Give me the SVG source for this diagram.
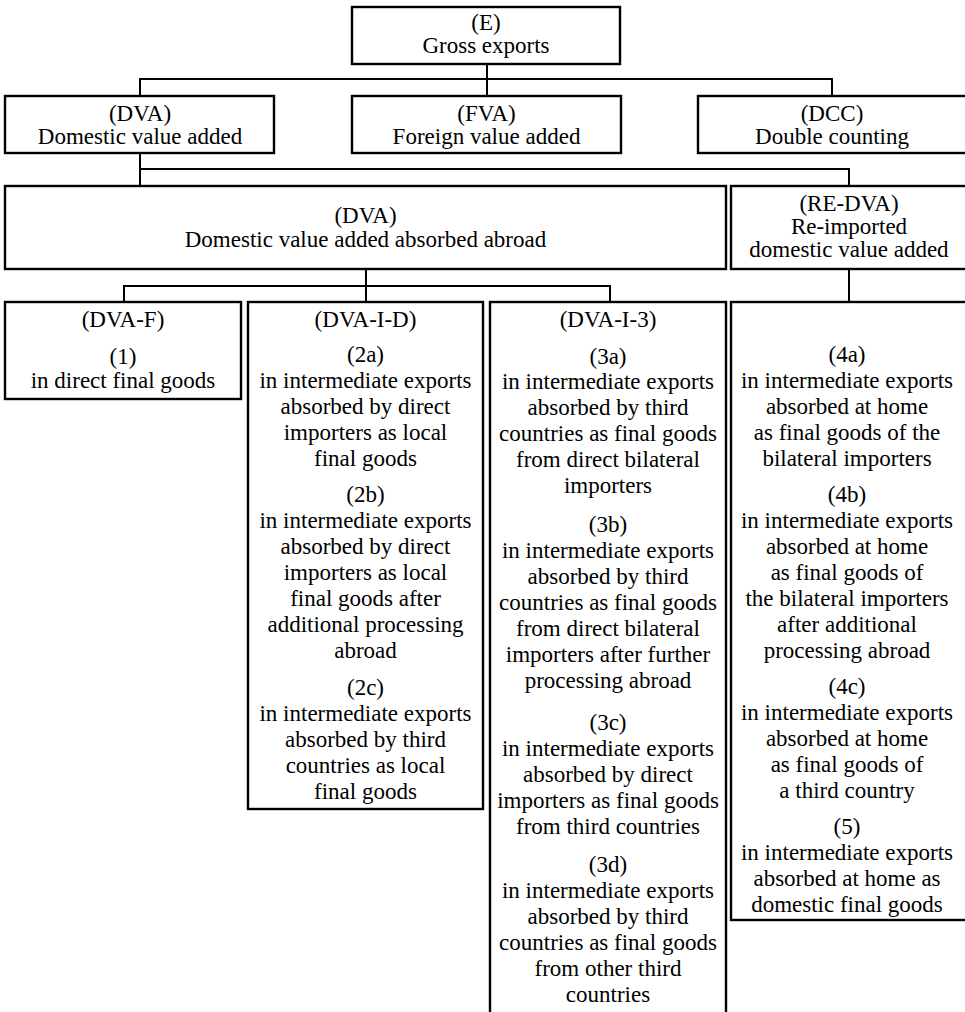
<svg xmlns="http://www.w3.org/2000/svg" width="965" height="1012" viewBox="0 0 965 1012">
<style>
.box{fill:#fff;stroke:#000;stroke-width:2.4}
.con line{stroke:#000;stroke-width:2}
text{font-family:"Liberation Serif","Times New Roman",serif;font-size:23px;fill:#000;text-anchor:middle}
</style>
<rect width="965" height="1012" fill="#fff"/>
<g id="connectors" class="con">
<line x1="487" y1="64" x2="487" y2="96"/>
<line x1="139" y1="79" x2="833" y2="79"/>
<line x1="140" y1="79" x2="140" y2="96"/>
<line x1="832" y1="79" x2="832" y2="96"/>
<line x1="140" y1="153" x2="140" y2="186"/>
<line x1="139" y1="169" x2="850" y2="169"/>
<line x1="849" y1="169" x2="849" y2="186"/>
<line x1="366" y1="269" x2="366" y2="302"/>
<line x1="123" y1="286" x2="611" y2="286"/>
<line x1="124" y1="286" x2="124" y2="302"/>
<line x1="610" y1="286" x2="610" y2="302"/>
<line x1="849" y1="269" x2="849" y2="302"/>
</g>
<g id="E">
<rect class="box" x="352" y="7" width="268" height="57"/>
<text x="486" y="30">(E)</text>
<text x="486" y="53">Gross exports</text>
</g>
<g id="DVA">
<rect class="box" x="5" y="96" width="269" height="57"/>
<text x="140" y="121">(DVA)</text>
<text x="140" y="144">Domestic value added</text>
</g>
<g id="FVA">
<rect class="box" x="352" y="96" width="269" height="57"/>
<text x="486.5" y="121">(FVA)</text>
<text x="486.5" y="144">Foreign value added</text>
</g>
<g id="DCC">
<rect class="box" x="698" y="96" width="270" height="57"/>
<text x="832" y="121">(DCC)</text>
<text x="832" y="144">Double counting</text>
</g>
<g id="DVA-abroad">
<rect class="box" x="5" y="186" width="721" height="83"/>
<text x="365.5" y="223">(DVA)</text>
<text x="365.5" y="247">Domestic value added absorbed abroad</text>
</g>
<g id="RE-DVA">
<rect class="box" x="731" y="186" width="237" height="83"/>
<text x="849" y="211">(RE-DVA)</text>
<text x="849" y="234">Re-imported</text>
<text x="849" y="257">domestic value added</text>
</g>
<g id="DVA-F">
<rect class="box" x="5" y="302" width="236" height="97"/>
<text x="123" y="327">(DVA-F)</text>
<text x="123" y="364">(1)</text>
<text x="123" y="388">in direct final goods</text>
</g>
<g id="DVA-I-D">
<rect class="box" x="248" y="302" width="235" height="507"/>
<text x="365.5" y="327">(DVA-I-D)</text>
<text x="365.5" y="362">(2a)</text>
<text x="365.5" y="388">in intermediate exports</text>
<text x="365.5" y="414">absorbed by direct</text>
<text x="365.5" y="440">importers as local</text>
<text x="365.5" y="466">final goods</text>
<text x="365.5" y="502">(2b)</text>
<text x="365.5" y="528">in intermediate exports</text>
<text x="365.5" y="554">absorbed by direct</text>
<text x="365.5" y="580">importers as local</text>
<text x="365.5" y="606">final goods after</text>
<text x="365.5" y="632">additional processing</text>
<text x="365.5" y="658">abroad</text>
<text x="365.5" y="695">(2c)</text>
<text x="365.5" y="721">in intermediate exports</text>
<text x="365.5" y="747">absorbed by third</text>
<text x="365.5" y="773">countries as local</text>
<text x="365.5" y="799">final goods</text>
</g>
<g id="DVA-I-3">
<rect class="box" x="490" y="302" width="236" height="720"/>
<text x="608" y="327">(DVA-I-3)</text>
<text x="608" y="364">(3a)</text>
<text x="608" y="389">in intermediate exports</text>
<text x="608" y="415">absorbed by third</text>
<text x="608" y="441">countries as final goods</text>
<text x="608" y="467">from direct bilateral</text>
<text x="608" y="493">importers</text>
<text x="608" y="532">(3b)</text>
<text x="608" y="558">in intermediate exports</text>
<text x="608" y="584">absorbed by third</text>
<text x="608" y="610">countries as final goods</text>
<text x="608" y="636">from direct bilateral</text>
<text x="608" y="662">importers after further</text>
<text x="608" y="688">processing abroad</text>
<text x="608" y="730">(3c)</text>
<text x="608" y="756">in intermediate exports</text>
<text x="608" y="782">absorbed by direct</text>
<text x="608" y="808">importers as final goods</text>
<text x="608" y="834">from third countries</text>
<text x="608" y="872">(3d)</text>
<text x="608" y="898">in intermediate exports</text>
<text x="608" y="924">absorbed by third</text>
<text x="608" y="950">countries as final goods</text>
<text x="608" y="976">from other third</text>
<text x="608" y="1002">countries</text>
</g>
<g id="RE-DVA-detail">
<rect class="box" x="731" y="302" width="237" height="618"/>
<text x="847" y="362">(4a)</text>
<text x="847" y="388">in intermediate exports</text>
<text x="847" y="414">absorbed at home</text>
<text x="847" y="440">as final goods of the</text>
<text x="847" y="466">bilateral importers</text>
<text x="847" y="502">(4b)</text>
<text x="847" y="528">in intermediate exports</text>
<text x="847" y="554">absorbed at home</text>
<text x="847" y="580">as final goods of</text>
<text x="847" y="606">the bilateral importers</text>
<text x="847" y="632">after additional</text>
<text x="847" y="658">processing abroad</text>
<text x="847" y="694">(4c)</text>
<text x="847" y="720">in intermediate exports</text>
<text x="847" y="746">absorbed at home</text>
<text x="847" y="772">as final goods of</text>
<text x="847" y="798">a third country</text>
<text x="847" y="834">(5)</text>
<text x="847" y="860">in intermediate exports</text>
<text x="847" y="886">absorbed at home as</text>
<text x="847" y="912">domestic final goods</text>
</g>
</svg>
